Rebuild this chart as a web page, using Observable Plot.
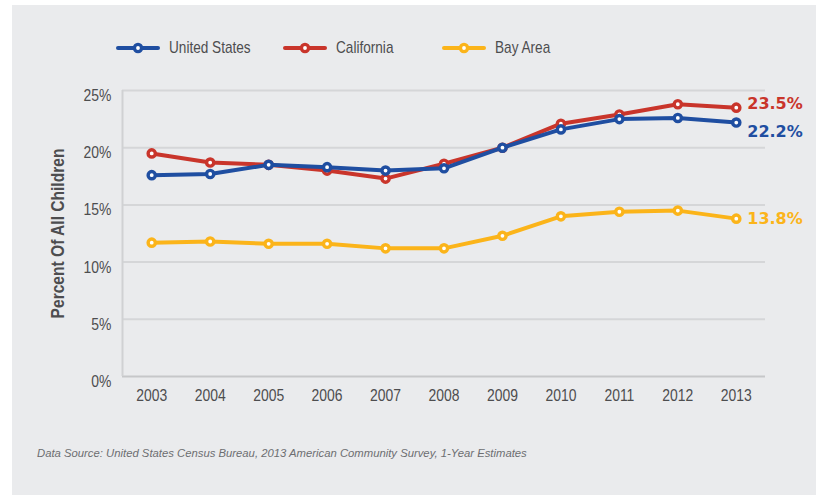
<!DOCTYPE html>
<html><head><meta charset="utf-8">
<script src="https://cdn.jsdelivr.net/npm/d3@7"></script>
<script src="https://cdn.jsdelivr.net/npm/@observablehq/plot@0.6"></script>
<style>
html,body{margin:0;padding:0;background:#fff;}
#page{position:relative;width:816px;height:495px;overflow:hidden;}
#panel{position:absolute;left:12px;top:5px;right:0;bottom:0;background:#eaebed;}
#content{position:absolute;left:0;top:0;width:816px;}
#legend{position:relative;height:70px;}
.item{position:absolute;top:38px;height:20px;display:flex;align-items:center;font-family:"Liberation Sans",Arial,sans-serif;font-size:17px;color:#4d4d4f;white-space:nowrap;}
.item svg{margin-right:9px;display:block}
.item span{display:inline-block;transform:scaleX(0.8);transform-origin:0 50%;}
#chart svg{display:block}
#caption{padding:26px 0 0 37px;font-family:"Liberation Sans",Arial,sans-serif;font-style:italic;font-size:11.3px;line-height:14px;color:#6d6e71;white-space:nowrap;}
</style></head>
<body><div id="page"><div id="panel"></div><div id="content"><div id="legend"></div><div id="chart"></div><div id="caption"></div></div></div>
<script>
const years = [2003, 2004, 2005, 2006, 2007, 2008, 2009, 2010, 2011, 2012, 2013];
const seriesNames = ["United States", "California", "Bay Area"];
const unitedStates = [17.6, 17.7, 18.5, 18.3, 18.0, 18.2, 20.0, 21.6, 22.5, 22.6, 22.2];
const california   = [19.5, 18.7, 18.5, 18.0, 17.3, 18.6, 20.0, 22.1, 22.9, 23.8, 23.5];
const bayArea      = [11.7, 11.8, 11.6, 11.6, 11.2, 11.2, 12.3, 14.0, 14.4, 14.5, 13.8];
const yTicks = [0, 5, 10, 15, 20, 25];
const yTitle = "Percent Of All Children";
const captionText = "Data Source: United States Census Bureau, 2013 American Community Survey, 1-Year Estimates";

const colors = {"United States": "#1f4ea1", "California": "#c9352b", "Bay Area": "#fbb41a"};
const labelDy = {"United States": 9, "California": -4, "Bay Area": 0};
const valuesBySeries = {"United States": unitedStates, "California": california, "Bay Area": bayArea};

const data = [];
for (const s of seriesNames) years.forEach((y, i) => data.push({year: y, series: s, value: valuesBySeries[s][i]}));

// Legend
const legendLefts = [116, 283, 442];
const legend = d3.select("#legend");
seriesNames.forEach((s, i) => {
  const item = legend.append("div").attr("class", "item").style("left", legendLefts[i] + "px");
  const sv = item.append("svg").attr("width", 44).attr("height", 14);
  sv.append("line").attr("x1", 2).attr("x2", 42).attr("y1", 7).attr("y2", 7)
    .attr("stroke", colors[s]).attr("stroke-width", 4).attr("stroke-linecap", "round");
  sv.append("circle").attr("cx", 22).attr("cy", 7).attr("r", 3.6)
    .attr("fill", "#fff").attr("stroke", colors[s]).attr("stroke-width", 3.4);
  item.append("span").text(s);
});

const drawOrder = ["Bay Area", "California", "United States"];
const seriesMarks = [];
for (const s of drawOrder) {
  const rows = data.filter(d => d.series === s);
  seriesMarks.push(
    Plot.line(rows, {x: "year", y: "value", stroke: colors[s], strokeWidth: 4, strokeLinejoin: "round"}),
    Plot.dot(rows, {x: "year", y: "value", r: 3.6, fill: "#fff", stroke: colors[s], strokeWidth: 3.4}),
    Plot.text(rows.filter(d => d.year === years[years.length - 1]), {
      x: "year", y: "value", text: d => d.value.toFixed(1) + "%",
      dx: 11, dy: labelDy[s], textAnchor: "start", fill: colors[s],
      fontWeight: "bold", fontSize: 16, fontFamily: "DejaVu Sans"
    })
  );
}

const chart = Plot.plot({
  width: 816,
  height: 350,
  marginTop: 20,
  marginBottom: 44,
  marginLeft: 122,
  marginRight: 51,
  style: {background: "transparent", fontFamily: '"Liberation Sans",Arial,sans-serif', fontSize: "16px", color: "#4d4d4f"},
  x: {domain: [2002.5, 2013.5]},
  y: {domain: [0, 25]},
  marks: [
    Plot.ruleY(yTicks.filter(d => d > 0), {stroke: "#d5d6d8", strokeWidth: 2}),
    Plot.ruleY([0], {stroke: "#c6c7c9", strokeWidth: 2}),
    Plot.ruleX([2002.5], {stroke: "#d0d1d3", strokeWidth: 2}),
    Plot.axisX(years, {tickSize: 0, tickPadding: 12, tickFormat: d => String(d), label: null, fontSize: 17, className: "narrow"}),
    Plot.axisY(yTicks, {tickSize: 0, tickPadding: 11, tickFormat: d => d + "%", label: null, dy: 5, fontSize: 17, className: "narrow"}),
    Plot.text([yTitle], {frameAnchor: "left", rotate: -90, dx: -65, textAnchor: "middle", fontWeight: "bold", fontSize: 19, fill: "#4d4d4f", className: "narrow"}),
    ...seriesMarks
  ]
});
// condense the axis and title text horizontally (narrow typeface look)
d3.select(chart).selectAll("g.narrow text, .narrow text").each(function() {
  const t = this.getAttribute("transform") || "";
  this.setAttribute("transform", (t + " scale(0.82,1)").trim());
});
document.getElementById("chart").appendChild(chart);
document.getElementById("caption").textContent = captionText;
</script>
</body></html>
